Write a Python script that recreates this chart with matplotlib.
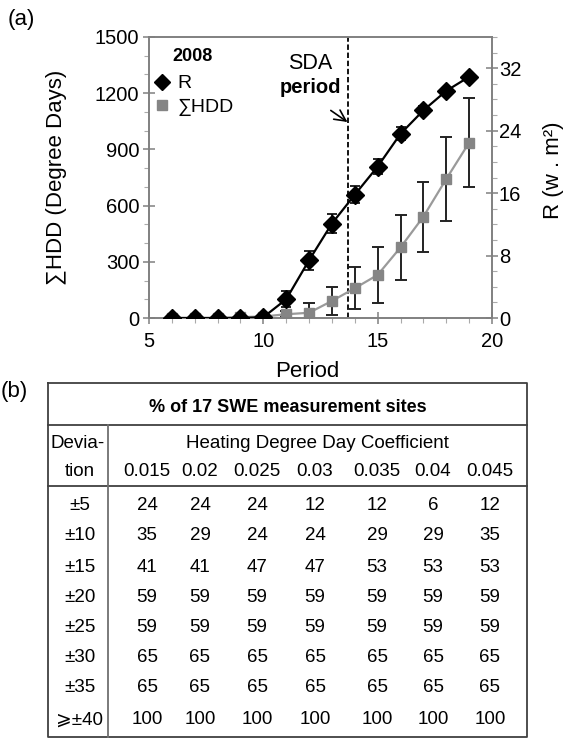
import matplotlib
matplotlib.use('Agg')
import matplotlib.pyplot as plt
from matplotlib.lines import Line2D
from matplotlib.ticker import MultipleLocator

plt.rcParams['font.family'] = ['Liberation Sans', 'DejaVu Sans']

# ---- panel (a) data ----
period = [6, 7, 8, 9, 10, 11, 12, 13, 14, 15, 16, 17, 18, 19]
hdd = [0, 0, 0, 5, 8, 20, 28, 91, 159, 230, 377, 541, 742, 936]
hdd_err = [0, 0, 0, 0, 0, 15, 50, 75, 113, 148, 172, 187, 222, 236]
r_val = [0, 0, 0, 0, 0.1, 2.4, 7.4, 12.1, 15.8, 19.4, 23.6, 26.6, 29.1, 30.9]
r_err = [0, 0, 0, 0, 0, 1.0, 1.2, 1.2, 1.1, 0.95, 0.85, 0.5, 0.4, 0.3]
sda_period = 13.7

# ---- panel (b) data ----
table_title = '% of 17 SWE measurement sites'
coef_header = 'Heating Degree Day Coefficient'
coefs = ['0.015', '0.02', '0.025', '0.03', '0.035', '0.04', '0.045']
devs = ['±5', '±10', '±15', '±20', '±25', '±30', '±35', '⩾±40']
pct = [
    [24, 24, 24, 12, 12, 6, 12],
    [35, 29, 24, 24, 29, 29, 35],
    [41, 41, 47, 47, 53, 53, 53],
    [59, 59, 59, 59, 59, 59, 59],
    [59, 59, 59, 59, 59, 59, 59],
    [65, 65, 65, 65, 65, 65, 65],
    [65, 65, 65, 65, 65, 65, 65],
    [100, 100, 100, 100, 100, 100, 100],
]

W, H = 577, 738
fig = plt.figure(figsize=(W / 100, H / 100), dpi=100)

spine_col = '#808080'
ax = fig.add_axes([149 / W, 1 - 318 / H, 343 / W, 281 / H])
ax2 = ax.twinx()

# sum of HDD (left axis)
ax.errorbar(period, hdd, yerr=hdd_err, fmt='none', ecolor='#222222',
            elinewidth=1.4, capsize=4, capthick=1.4, zorder=2)
ax.plot(period, hdd, color='#9a9a9a', lw=1.6, marker='s', ms=7,
        mfc='#858585', mec='#858585', zorder=3)

# R (right axis)
ax2.errorbar(period, r_val, yerr=r_err, fmt='none', ecolor='k',
             elinewidth=1.2, capsize=3.5, capthick=1.2, zorder=2)
ax2.plot(period, r_val, color='k', lw=1.6, marker='D', ms=9, zorder=3)

ax.axvline(sda_period, color='k', lw=1.3, ls=(0, (3, 1.5)), zorder=1)

ax.set_xlim(5, 20)
ax.set_ylim(0, 1500)
ax2.set_ylim(0, 36)

ax.xaxis.set_major_locator(MultipleLocator(5))
ax.xaxis.set_minor_locator(MultipleLocator(1))
ax.yaxis.set_major_locator(MultipleLocator(300))
ax.yaxis.set_minor_locator(MultipleLocator(100))
ax2.yaxis.set_major_locator(MultipleLocator(8))
ax2.yaxis.set_minor_locator(MultipleLocator(2))

for a in (ax, ax2):
    for s in a.spines.values():
        s.set_color(spine_col)
        s.set_linewidth(1.2)
    a.tick_params(which='major', direction='inout', length=8, width=1.1,
                  color=spine_col, labelsize=14.5)
    a.tick_params(which='minor', direction='out', length=3.5, width=0.8,
                  color='#aaaaaa')
ax.tick_params(axis='x', which='major', pad=6)
ax.tick_params(axis='y', which='major', pad=3)
ax2.tick_params(axis='y', which='major', pad=1)

ax.set_xlabel('Period', fontsize=16)
ax.xaxis.set_label_coords(0.46, -0.153)
ax.set_ylabel('∑HDD (Degree Days)', fontsize=16)
ax.yaxis.set_label_coords(-0.24, 0.5)
ax2.set_ylabel('R (w . m²)', fontsize=16)
ax2.yaxis.set_label_coords(1.15, 0.527)

ax.text(12.04, 1361, 'SDA', ha='center', va='center', fontsize=15.5)
ax.text(12.04, 1228, 'period', ha='center', va='center', fontsize=14.5,
        fontweight='bold')
ax.annotate('', xy=(13.68, 1046), xytext=(12.95, 1108),
            arrowprops=dict(arrowstyle='->,head_length=0.8,head_width=0.4',
                            color='k', lw=1.2, shrinkA=0, shrinkB=0))

handles = [Line2D([], [], ls='none', marker='D', color='k', ms=8),
           Line2D([], [], ls='none', marker='s', color='#858585', ms=7)]
leg = ax2.legend(handles, ['R', '∑HDD'], title='2008', loc='upper left',
                 bbox_to_anchor=(152 / W, 1 - 48 / H),
                 bbox_transform=fig.transFigure, frameon=False,
                 fontsize=14, handlelength=1.0, handletextpad=0.3,
                 labelspacing=0.3, borderaxespad=0, borderpad=0,
                 title_fontproperties={'weight': 'bold', 'size': 13})
leg._legend_box.sep = 7

fig.text(21 / W, 1 - 20 / H, '(a)', ha='center', va='center', fontsize=16)

# ---- panel (b): table drawn in pixel coordinates ----
tb = fig.add_axes([0, 0, 1, 1])
tb.set_xlim(0, W)
tb.set_ylim(H, 0)
tb.axis('off')

fig.text(1 / W, 1 - 391 / H, '(b)', ha='left', va='center', fontsize=16)

left, right, top, bottom = 48, 527, 383, 737
line_kw = dict(color='#404040', lw=1.3)
tb.plot([left, right, right, left, left], [top, top, bottom, bottom, top], **line_kw)
tb.plot([left, right], [425, 425], **line_kw)
tb.plot([left, right], [486, 486], **line_kw)
tb.plot([108, 108], [425, bottom], color='#707070', lw=1.3)

fs = 13.5
tb.text((left + right) / 2, 407, table_title, ha='center', va='center',
        fontsize=13, fontweight='bold')
tb.text(78, 443, 'Devia-', ha='center', va='center', fontsize=fs)
tb.text(80, 472, 'tion', ha='center', va='center', fontsize=fs)
tb.text(317, 443, coef_header, ha='center', va='center', fontsize=fs)

col_x = [147, 200, 257, 315, 377, 433, 490]
row_y = [505, 536, 567, 597, 627, 658, 688, 720]
for cx, c in zip(col_x, coefs):
    tb.text(cx, 472, c, ha='center', va='center', fontsize=fs)
for ry, d, row in zip(row_y, devs, pct):
    tb.text(80, ry, d, ha='center', va='center', fontsize=fs)
    for cx, v in zip(col_x, row):
        tb.text(cx, ry, str(v), ha='center', va='center', fontsize=fs)

fig.savefig('out.png', dpi=100)
